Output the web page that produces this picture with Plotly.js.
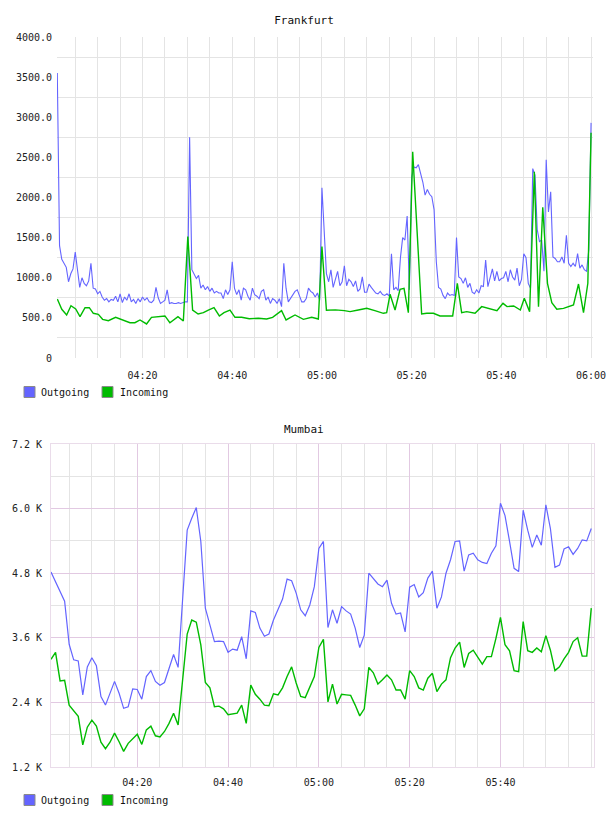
<!DOCTYPE html>
<html>
<head>
<meta charset="utf-8">
<script src="https://cdn.plot.ly/plotly-3.0.1.min.js"></script>
<style>html,body{margin:0;padding:0;background:#fff;}#chart{width:608px;height:816px;}</style>
</head>
<body>
<div id="chart"></div>
<script>
// ---------- DATA ----------
const DAY = '2024-01-01 ';
const seriesNames = ['Outgoing', 'Incoming'];

// Frankfurt outgoing: samples every 30 s from 04:01:00 to 06:00:00
const frankOutStart = '04:01:00';
const frankOutStepSec = 30;
const frankOut = [
  3550,1400,1230,1180,1130,950,1050,1110,1320,1100,
  880,1000,930,900,960,1180,870,860,800,830,
  760,720,740,700,730,720,770,700,800,690,
  760,720,800,700,730,680,740,700,760,720,
  750,700,690,720,880,750,680,700,720,850,
  680,690,680,680,690,680,690,700,700,2750,
  1100,1050,990,1030,870,910,850,890,830,870,
  810,830,810,810,740,850,790,850,1200,870,
  790,850,720,870,850,770,720,870,790,770,
  740,830,850,720,760,680,740,720,680,740,
  640,1180,870,700,740,790,830,850,760,700,
  700,740,870,830,810,760,810,720,2120,1500,
  1050,950,1100,880,1000,1080,900,950,1150,900,
  980,950,890,960,830,860,1010,820,820,920,
  880,850,810,800,830,790,780,800,770,1300,
  850,880,840,1250,1500,1470,1770,850,2250,2380,
  2370,2410,2300,2190,2030,2100,2040,2010,1850,1200,
  880,860,780,740,810,780,790,780,1500,1010,
  990,930,1000,880,930,820,800,850,810,900,
  890,1220,890,1010,1110,960,1080,960,990,1000,
  1080,950,1100,1010,970,1120,900,980,1300,1250,
  930,870,2360,2280,1600,1450,1470,1080,2470,1820,
  2070,1260,1240,1200,1200,1260,1180,1530,1180,1140,
  1180,1140,1300,1120,1160,1100,1080,1350,2930
];

// Frankfurt incoming: irregular samples
const frankInTimes = ["04:01:00","04:02:00","04:03:05","04:04:03","04:05:06","04:06:04","04:07:11","04:08:08","04:09:02","04:10:09","04:11:06","04:12:23","04:14:00","04:15:21","04:17:12","04:18:18","04:19:26","04:20:54","04:22:00","04:25:00","04:26:06","04:27:54","04:29:06","04:30:06",
  "04:31:10","04:32:24","04:33:34","04:34:40","04:35:56","04:37:08","04:38:10","04:39:30","04:40:37","04:42:06","04:43:48","04:45:50","04:47:40","04:49:00","04:51:00","04:52:00","04:54:00","04:55:52","04:57:43","04:59:12",
  "05:00:00","05:01:00","05:03:00","05:05:00","05:06:16","05:08:06","05:09:59","05:11:48","05:13:42","05:14:26","05:15:11","05:16:18","05:17:25","05:18:18","05:19:16","05:20:14",
  "05:22:14","05:23:22","05:24:51","05:26:19","05:29:09","05:30:11","05:31:09","05:32:16","05:34:08","05:35:37","05:37:06","05:39:01",
  "05:40:22","05:41:16","05:42:45","05:44:14","05:45:07","05:46:18","05:47:21","05:48:17","05:49:14","05:50:17",
  "05:51:15","05:52:22","05:53:51","05:56:05","05:57:12","05:58:19","05:59:17","06:00:00"];
const frankIn = [735,607,536,652,611,515,627,627,557,544,482,465,507,482,440,440,474,424,507,524,440,515,461,1512,
  598,548,565,598,627,524,565,598,507,507,490,495,486,507,590,474,536,482,507,486,
  1390,595,600,590,578,598,619,590,557,565,794,598,856,868,565,2571,
  549,557,557,524,524,931,565,578,557,640,619,590,
  681,640,648,598,744,578,2322,640,1878,931,
  690,607,619,661,922,565,931,2808];

// Mumbai: samples every minute from 04:01 to 06:00
const mumbaiStart = '04:01:00';
const mumbaiStepSec = 60;
const mumbaiOut = [4820,4630,4460,4280,3480,3190,3170,2540,3060,3230,
  3080,2510,2350,2560,2790,2570,2290,2320,2650,2640,
  2460,2880,2990,2790,2720,2770,3030,3290,3050,4400,
  5600,5820,6020,5390,4150,3840,3530,3540,3530,3330,
  3390,3370,3620,3210,4100,4070,3780,3630,3670,3930,
  4120,4320,4690,4660,4430,4120,4010,4210,4550,5260,
  5390,3790,4120,3870,4180,4100,4040,3780,3420,3650,
  4800,4690,4600,4550,4670,4240,4040,4060,3710,4540,
  4590,4360,4440,4710,4840,4150,4360,4800,5050,5390,
  5400,4840,5140,5170,5050,5000,4980,5170,5310,6100,
  5870,5390,4890,4830,5970,5600,5280,5510,5320,6070,
  5630,4910,4950,5250,5290,5150,5260,5420,5400,5630];
const mumbaiIn = [3200,3330,2800,2810,2350,2240,2140,1610,1940,2070,
  1960,1660,1540,1660,1830,1670,1490,1640,1730,1810,
  1620,1890,1960,1780,1760,1860,2010,2200,1980,2850,
  3670,3930,3890,3470,2770,2670,2320,2330,2280,2170,
  2180,2200,2350,2010,2720,2550,2460,2350,2340,2560,
  2540,2670,2880,3060,2760,2510,2490,2670,2880,3420,
  3570,2410,2740,2370,2550,2540,2530,2350,2150,2280,
  3050,2950,2740,2820,2910,2820,2630,2630,2460,2990,
  2880,2670,2630,2850,2940,2600,2740,2820,3230,3410,
  3520,3050,3310,3370,3240,3110,3250,3250,3590,3980,
  3470,3360,2990,2970,3900,3360,3330,3410,3340,3640,
  3370,2990,3060,3210,3330,3530,3600,3260,3260,4150];

const frankYTicks = [0,500,1000,1500,2000,2500,3000,3500,4000];
const frankYLabels = ['0','500.0','1000.0','1500.0','2000.0','2500.0','3000.0','3500.0','4000.0'];
const mumbaiYTicks = [1200,2400,3600,4800,6000,7200];
const mumbaiYLabels = ['1.2 K','2.4 K','3.6 K','4.8 K','6.0 K','7.2 K'];
const mumbaiXTicks = ['04:20','04:40','05:00','05:20','05:40'];

// ---------- HELPERS ----------
function regularTimes(start, stepSec, n) {
  const t0 = new Date('2024-01-01T' + start + 'Z').getTime();
  const out = [];
  for (let i = 0; i < n; i++) {
    const d = new Date(t0 + i * stepSec * 1000);
    out.push(DAY + d.toISOString().substr(11, 8));
  }
  return out;
}
const W = 608, H = 816;
const px = x => x / W;
const py = y => 1 - y / H;
const FONT = 'DejaVu Sans Mono, monospace';
const BLUE = '#6464ff';
const GREEN = '#00bb00';

const frankOutX = regularTimes(frankOutStart, frankOutStepSec, frankOut.length);
const frankInX = frankInTimes.map(t => DAY + t);
const mumbaiX = regularTimes(mumbaiStart, mumbaiStepSec, mumbaiOut.length);

const traces = [
  {x: frankOutX, y: frankOut, xaxis: 'x', yaxis: 'y', type: 'scatter', mode: 'lines', name: seriesNames[0],
   line: {color: BLUE, width: 1.1}, showlegend: false},
  {x: frankInX, y: frankIn, xaxis: 'x', yaxis: 'y', type: 'scatter', mode: 'lines', name: seriesNames[1],
   line: {color: GREEN, width: 1.4}, showlegend: false},
  {x: mumbaiX, y: mumbaiOut, xaxis: 'x2', yaxis: 'y2', type: 'scatter', mode: 'lines', name: seriesNames[0],
   line: {color: BLUE, width: 1.2}, showlegend: false},
  {x: mumbaiX, y: mumbaiIn, xaxis: 'x2', yaxis: 'y2', type: 'scatter', mode: 'lines', name: seriesNames[1],
   line: {color: GREEN, width: 1.4}, showlegend: false}
];

const tickFont = {family: FONT, size: 10, color: '#222'};
const GRAY = '#e4e4e4';
const PINK = '#e2c9e2';

// legend drawn as shapes + text
function legendAt(yc) {
  const shapes = [], ann = [];
  const items = [{x: 24, color: BLUE, label: seriesNames[0], tx: 39},
                 {x: 102, color: GREEN, label: seriesNames[1], tx: 118}];
  items.forEach(it => {
    shapes.push({type: 'rect', xref: 'paper', yref: 'paper',
      x0: px(it.x), x1: px(it.x + 11), y0: py(yc + 5.5), y1: py(yc - 5.5),
      fillcolor: it.color, line: {color: '#8a8a8a', width: 1}});
    ann.push({xref: 'paper', yref: 'paper', x: px(it.tx), y: py(yc), xanchor: 'left', yanchor: 'middle',
      text: it.label, showarrow: false, font: {family: FONT, size: 10, color: '#111'}});
  });
  return {shapes, ann};
}
const lg1 = legendAt(392);
const lg2 = legendAt(800);

const layout = {
  width: W, height: H,
  margin: {l: 0, r: 0, t: 0, b: 0},
  paper_bgcolor: '#fff', plot_bgcolor: '#fff',
  showlegend: false,
  title: {text: 'Frankfurt', x: 0.5, xanchor: 'center', y: py(20), yanchor: 'middle', yref: 'container',
          font: {family: FONT, size: 11, color: '#111'}},
  xaxis: {
    domain: [px(57), px(593)], anchor: 'y', type: 'date',
    range: [DAY + '04:00:56', DAY + '06:00:26'],
    tickmode: 'linear', tick0: DAY + '04:00:00', dtick: 20 * 60000, tickformat: '%H:%M',
    showgrid: true, gridcolor: GRAY, gridwidth: 1,
    minor: {tickmode: 'linear', tick0: DAY + '04:00:00', dtick: 5 * 60000, showgrid: true, gridcolor: GRAY, ticks: ''},
    zeroline: false, showline: false, ticks: '', tickfont: tickFont, ticklabelstandoff: 10, automargin: false
  },
  yaxis: {
    domain: [py(358), py(37)], anchor: 'x', range: [0, 4000],
    tickmode: 'array', tickvals: frankYTicks, ticktext: frankYLabels,
    showgrid: false,
    minor: {tickmode: 'linear', tick0: 250, dtick: 500, showgrid: true, gridcolor: GRAY, ticks: ''},
    zeroline: false, showline: false, ticks: '', tickfont: tickFont, ticklabelstandoff: 4, automargin: false
  },
  xaxis2: {
    domain: [px(51), px(594)], anchor: 'y2', type: 'date',
    range: [DAY + '04:01:00', DAY + '06:00:36'],
    tickmode: 'array', tickvals: mumbaiXTicks.map(t => DAY + t + ':00'), tickformat: '%H:%M',
    showgrid: true, gridcolor: PINK, gridwidth: 1,
    minor: {tickmode: 'linear', tick0: DAY + '04:00:00', dtick: 5 * 60000, showgrid: true, gridcolor: GRAY, ticks: ''},
    zeroline: false, showline: true, mirror: true, linecolor: '#eadcea', linewidth: 1,
    ticks: '', tickfont: tickFont, ticklabelstandoff: 6, automargin: false
  },
  yaxis2: {
    domain: [py(767), py(444)], anchor: 'x2', range: [1200, 7200],
    tickmode: 'array', tickvals: mumbaiYTicks, ticktext: mumbaiYLabels,
    showgrid: true, gridcolor: PINK, gridwidth: 1,
    minor: {tickmode: 'linear', tick0: 1800, dtick: 1200, showgrid: true, gridcolor: GRAY, ticks: ''},
    zeroline: false, showline: true, mirror: true, linecolor: '#eadcea', linewidth: 1,
    ticks: '', tickfont: tickFont, ticklabelstandoff: 6, automargin: false
  },
  shapes: lg1.shapes.concat(lg2.shapes),
  annotations: [
    {xref: 'paper', yref: 'paper', x: 0.5, y: py(429), xanchor: 'center', yanchor: 'middle',
     text: 'Mumbai', showarrow: false, font: {family: FONT, size: 11, color: '#111'}}
  ].concat(lg1.ann, lg2.ann)
};

Plotly.newPlot('chart', traces, layout, {staticPlot: true, displayModeBar: false});
</script>
</body>
</html>
